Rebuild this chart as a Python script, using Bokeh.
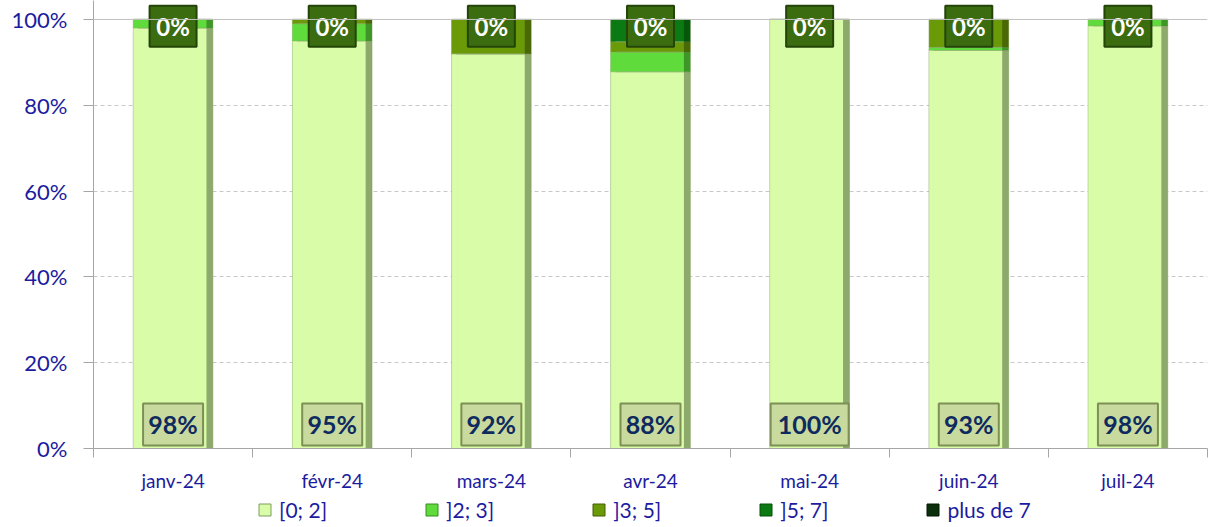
from bokeh.plotting import figure
from bokeh.layouts import column
from bokeh.models import (ColumnDataSource, Range1d, FixedTicker, Legend, LegendItem,
                          Span, NumeralTickFormatter)
from bokeh.core.properties import value
from bokeh.transform import dodge
from bokeh.embed import file_html
from bokeh.resources import INLINE

months = ["janv-24", "févr-24", "mars-24", "avr-24", "mai-24", "juin-24", "juil-24"]
series = ["[0; 2]", "]2; 3]", "]3; 5]", "]5; 7]", "plus de 7"]
s_0_2 = [98.0, 95.0, 92.0, 87.8, 100.0, 92.8, 98.5]
s_2_3 = [2.0, 4.0, 0.0, 4.6, 0.0, 0.7, 1.5]
s_3_5 = [0.0, 1.0, 8.0, 2.4, 0.0, 6.5, 0.0]
s_5_7 = [0.0, 0.0, 0.0, 5.2, 0.0, 0.0, 0.0]
s_plus7 = [0.0, 0.0, 0.0, 0.0, 0.0, 0.0, 0.0]

colors = ["#d9fca9", "#5fdc3c", "#6b9a08", "#0b7a12", "#0b2e0b"]
shades = ["#7f9a60", "#3a8a24", "#445f06", "#06500b", "#051a05"]
navy = "#1c1ca0"
FONT = "Lato"

xs = [i + 0.5 for i in range(len(months))]
keys = ["a", "b", "c", "d", "e"]
data = {"x": xs}
for k, s in zip(keys, [s_0_2, s_2_3, s_3_5, s_5_7, s_plus7]):
    data[k] = [v / 100.0 for v in s]
src = ColumnDataSource(data)

bot_txt = [f"{round(v)}%" for v in s_0_2]
top_txt = [f"{round(v)}%" for v in s_plus7]
lab_bottom = ColumnDataSource(dict(x=xs, y=[0.056] * len(xs), t=bot_txt,
                                   w=[18 * len(t) + 6 for t in bot_txt]))
lab_top = ColumnDataSource(dict(x=xs, y=[0.984] * len(xs), t=top_txt,
                                w=[16 * len(t) + 15 for t in top_txt]))

p = figure(width=1210, height=494, output_backend="svg", toolbar_location=None,
           x_range=Range1d(0, len(months)), y_range=Range1d(0, 1.0442),
           min_border_left=93, min_border_right=3, min_border_top=0,
           min_border_bottom=45,
           background_fill_color="white", border_fill_color="white")
p.outline_line_color = None

bars = p.vbar_stack(keys, x="x", width=0.5, source=src, color=colors,
                    line_color="#8aa86a", line_width=0.6)
# right-side bevel shading
p.vbar_stack(keys, x=dodge("x", 0.23, range=p.x_range), width=0.04, source=src,
             color=shades, line_color=None, fill_alpha=0.85)
# left-side highlight
p.vbar_stack(keys, x=dodge("x", -0.235, range=p.x_range), width=0.03, source=src,
             color=colors, line_color=None, fill_alpha=0.5)

# axes
p.yaxis.ticker = FixedTicker(ticks=[0, 0.2, 0.4, 0.6, 0.8, 1.0])
p.yaxis.formatter = NumeralTickFormatter(format="0%")
p.yaxis.major_label_text_font = FONT
p.yaxis.major_label_text_font_size = "22px"
p.yaxis.major_label_text_color = navy
p.yaxis.major_label_standoff = 16
p.yaxis.major_tick_out = 10
p.yaxis.major_tick_in = 0
p.yaxis.minor_tick_line_color = None
p.yaxis.axis_line_color = "#a6a6a6"
p.yaxis.major_tick_line_color = "#a6a6a6"

p.xaxis.ticker = FixedTicker(ticks=xs, minor_ticks=list(range(len(months) + 1)))
p.xaxis.major_label_overrides = {x: m for x, m in zip(xs, months)}
p.xaxis.major_label_text_font = FONT
p.xaxis.major_label_text_font_size = "19px"
p.xaxis.major_label_text_color = navy
p.xaxis.major_tick_out = 0
p.xaxis.major_tick_in = 0
p.xaxis.minor_tick_out = 9
p.xaxis.minor_tick_in = 0
p.xaxis.minor_tick_line_color = "#a6a6a6"
p.xaxis.axis_line_color = "#a6a6a6"
p.xaxis.major_label_standoff = 11

p.xgrid.grid_line_color = None
p.ygrid.ticker = FixedTicker(ticks=[0.2, 0.4, 0.6, 0.8])
p.ygrid.grid_line_color = "#c8c8c8"
p.ygrid.grid_line_dash = "4 3"
p.add_layout(Span(location=1.0, dimension="width", line_color="#c0c0c0", line_width=1))

# data labels (boxes + text)
p.rect(x="x", y="y", width="w", height=42, width_units="screen", height_units="screen",
       source=lab_bottom, fill_color="#c9da9e", line_color="#7d8f55", line_width=2)
p.text(x="x", y="y", text="t", source=lab_bottom, text_align="center",
       text_baseline="middle", text_font=value(FONT), text_font_style="bold",
       text_font_size="25px", text_color="#0e2a5e")
p.rect(x="x", y="y", width="w", height=41, width_units="screen", height_units="screen",
       source=lab_top, fill_color="#3b6c10", line_color="#244508", line_width=2)
p.text(x="x", y="y", text="t", source=lab_top, text_align="center",
       text_baseline="middle", text_font=value(FONT), text_font_style="bold",
       text_font_size="24px", text_color="white")

# legend in a slim companion figure (swatch glyphs kept off-range)
lg = figure(width=1210, height=33, output_backend="svg", toolbar_location=None,
            x_range=Range1d(0, 1), y_range=Range1d(0, 1),
            x_axis_type=None, y_axis_type=None,
            min_border_left=0, min_border_right=0, min_border_top=0, min_border_bottom=0,
            background_fill_color="white", border_fill_color="white")
lg.outline_line_color = None
lg.xgrid.visible = False
lg.ygrid.visible = False
dummies = [lg.quad(left=[5], right=[6], top=[6], bottom=[5], fill_color=c,
                   line_color=sh, line_width=1) for c, sh in zip(colors, shades)]
legend = Legend(items=[LegendItem(label=s, renderers=[r]) for s, r in zip(series, dummies)],
                orientation="horizontal", location=(164, 5),
                label_text_font=FONT, label_text_font_size="21px", label_text_color=navy,
                glyph_width=15, glyph_height=15, label_standoff=7,
                spacing=97, padding=0, margin=0, border_line_color=None,
                background_fill_alpha=0)
lg.add_layout(legend, "center")

open("out.html", "w").write(file_html(column(p, lg, spacing=0), INLINE))
